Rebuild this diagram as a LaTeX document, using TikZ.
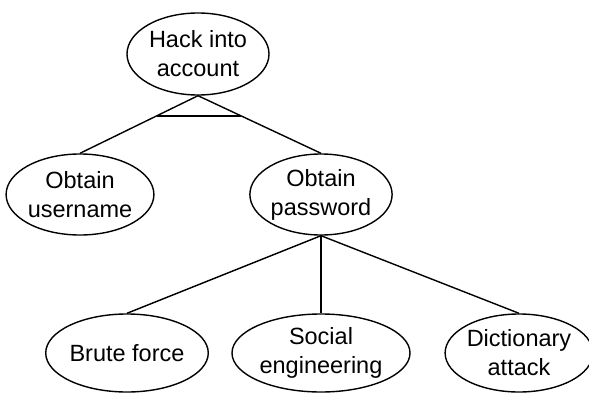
\documentclass[tikz,border=0pt]{standalone}
\usepackage{fontspec}
\setmainfont{Liberation Sans}
\usetikzlibrary{shapes.geometric}
\begin{document}
\begin{tikzpicture}[x=1pt,y=1pt,
  goal/.style={ellipse, draw, line width=1.4pt, inner sep=0pt, align=center,
    font=\fontsize{23.5}{29}\selectfont},
  link/.style={line width=1.4pt}]
\useasboundingbox (0,0) rectangle (589,392);
\node[goal, minimum width=142, minimum height=82] (hack) at (198,338) {Hack into\\account};
\node[goal, minimum width=142, minimum height=81] (user) at (80,197.5) {Obtain\\username};
\node[goal, minimum width=142, minimum height=81] (pass) at (321,197.5) {Obtain\\password};
\node[goal, minimum width=140, minimum height=78] (brute) at (127,39) {Brute force};
\node[goal, minimum width=178, minimum height=78] (social) at (321,39) {Social\\engineering};
\node[goal, minimum width=138, minimum height=78] (dict) at (519,39) {Dictionary\\attack};
\draw[link] (hack.south) -- (user.north) coordinate[pos=0.35] (a1);
\draw[link] (hack.south) -- (pass.north) coordinate[pos=0.35] (a2);
\draw[link] (a1) -- (a2);
\draw[link] (pass.south) -- (brute.north);
\draw[link] (pass.south) -- (social.north);
\draw[link] (pass.south) -- (dict.north);
\end{tikzpicture}
\end{document}
